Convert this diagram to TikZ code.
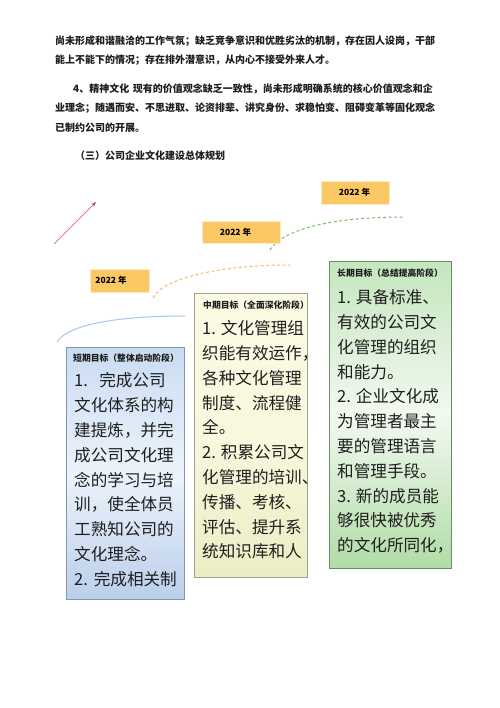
\documentclass[tikz,border=0pt]{standalone}
\usepackage{fontspec}
\usetikzlibrary{arrows.meta}
\newfontfamily\cjk{Noto Sans CJK SC}
\XeTeXlinebreaklocale "zh"
\XeTeXlinebreakskip=0pt plus 4pt

\definecolor{inktext}{RGB}{30,30,30}
\definecolor{yearfill}{RGB}{252,200,100}
\definecolor{yearedge}{RGB}{253,234,196}
\definecolor{arrowred}{RGB}{196,84,80}
\definecolor{dashgreen}{RGB}{120,188,108}
\definecolor{dashorange}{RGB}{246,182,112}
\definecolor{lineblue}{RGB}{166,198,234}
\definecolor{shortA}{RGB}{202,220,242}
\definecolor{shortB}{RGB}{236,243,251}
\definecolor{shortC}{RGB}{186,207,234}
\definecolor{shortD}{RGB}{128,150,178}
\definecolor{midA}{RGB}{251,251,228}
\definecolor{midB}{RGB}{248,248,222}
\definecolor{midC}{RGB}{234,238,196}
\definecolor{midD}{RGB}{160,162,140}
\definecolor{longA}{RGB}{196,230,190}
\definecolor{longB}{RGB}{242,249,240}
\definecolor{longC}{RGB}{176,220,166}
\definecolor{longD}{RGB}{104,142,104}

\tikzset{
	para/.style={anchor=west, inner sep=0, text=inktext, font=\cjk\bfseries\fontsize{10bp}{12bp}\selectfont},
	yearbox/.style={fill=yearfill, draw=yearedge, line width=1.2bp, inner sep=0},
	yeartext/.style={inner sep=0, font=\cjk\bfseries\fontsize{8.5bp}{10bp}\selectfont},
	goalbox/.style={anchor=north west, inner sep=0, line width=0.6bp},
	goaltitle/.style={anchor=west, inner sep=0, text=inktext, font=\cjk\bfseries\fontsize{8.8bp}{10bp}\selectfont},
	goalbody/.style={anchor=north west, inner sep=0, align=left, text=inktext, font=\cjk\fontsize{16.6bp}{24.8bp}\selectfont}
}

\begin{document}
\begin{tikzpicture}[x=1bp,y=-1bp]
	\useasboundingbox[fill=white] (0,0) rectangle (500,708);
	% text above the plan
	\node[para] (p1) at (55,41) {\hbox to 392bp{尚未形成和谐融洽的工作气氛；缺乏竞争意识和优胜劣汰的机制，存在因人设岗，干部}};
	\node[para] (p2) at (55,60) {能上不能下的情况；存在排外潜意识，从内心不接受外来人才。};
	\node[para] (p3) at (73,88.5) {\hbox to 374bp{4、精神文化\hspace{0.35em}现有的价值观念缺乏一致性，尚未形成明确系统的核心价值观念和企}};
	\node[para] (p4) at (55,108) {\hbox to 392bp{业理念；随遇而安、不思进取、论资排辈、讲究身份、求稳怕变、阻碍变革等固化观念}};
	\node[para] (p5) at (55,127.5) {已制约公司的开展。};
	\node[para] (head) at (75,156) {（三）公司企业文化建设总体规划};
	% arrow and curves
	\coordinate (rtail) at (54,244);
	\coordinate (rhead) at (96,202);
	\draw[arrowred, line width=0.6bp, -{Stealth[length=5bp,width=4bp]}] (rtail) -- (rhead);
	\coordinate (gS) at (270,250);
	\coordinate (gE) at (403,217);
	\draw[dashgreen, line width=1bp, dash pattern=on 3bp off 2.5bp] (gS) .. controls (282,230) and (330,217) .. (gE);
	\coordinate (oS) at (153,298);
	\coordinate (oE) at (290,265);
	\draw[dashorange, line width=1bp, dash pattern=on 3bp off 2.5bp] (oS) .. controls (163,278) and (220,265) .. (oE);
	\coordinate (bS) at (57,342);
	\coordinate (bE) at (185,316);
	\draw[lineblue, line width=1bp] (bS) .. controls (68,324) and (120,316) .. (bE);
	% year labels
	\node[yearbox, anchor=north west, minimum width=59bp, minimum height=23bp] (yr1) at (90,269) {};
	\node[yeartext] (yt1) at (111,280.5) {2022 年};
	\node[yearbox, anchor=north west, minimum width=78bp, minimum height=22bp] (yr2) at (202,221) {};
	\node[yeartext] (yt2) at (235.5,232) {2022 年};
	\node[yearbox, anchor=north west, minimum width=68bp, minimum height=23bp] (yr3) at (321,181) {};
	\node[yeartext] (yt3) at (354.5,192.5) {2022 年};
	% goal boxes
	\node[goalbox, draw=shortD, top color=shortA, bottom color=shortC, middle color=shortB, minimum width=118bp, minimum height=252bp] (short) at (66,347) {};
	\node[goaltitle] (shortT) at (73,358) {短期目标（整体启动阶段）};
	\node[goalbody] (shortB) at (74,372.5) {1.\hspace{0.68em}完成公司\\
		文化体系的构\\
		建提炼，并完\\
		成公司文化理\\
		念的学习与培\\
		训，使全体员\\
		工熟知公司的\\
		文化理念。\\
		2.\hspace{0.35em}完成相关制};
	\node[goalbox, draw=midD, top color=midA, bottom color=midC, middle color=midB, minimum width=113bp, minimum height=284bp] (mid) at (194,293) {};
	\node[goaltitle] (midT) at (203,305) {中期目标（全面深化阶段）};
	\node[goalbody] (midB) at (202,320.5) {1. 文化管理组\\
		织能有效运作，\\
		各种文化管理\\
		制度、流程健\\
		全。\\
		2. 积累公司文\\
		化管理的培训、\\
		传播、考核、\\
		评估、提升系\\
		统知识库和人};
	\node[goalbox, draw=longD, top color=longA, bottom color=longC, middle color=longB, minimum width=122bp, minimum height=307bp] (long) at (329,261) {};
	\node[goaltitle] (longT) at (337,273) {长期目标（总结提高阶段）};
	\node[goalbody] (longB) at (337,289.5) {1. 具备标准、\\
		有效的公司文\\
		化管理的组织\\
		和能力。\\
		2. 企业文化成\\
		为管理者最主\\
		要的管理语言\\
		和管理手段。\\
		3. 新的成员能\\
		够很快被优秀\\
		的文化所同化，};
\end{tikzpicture}
\end{document}
